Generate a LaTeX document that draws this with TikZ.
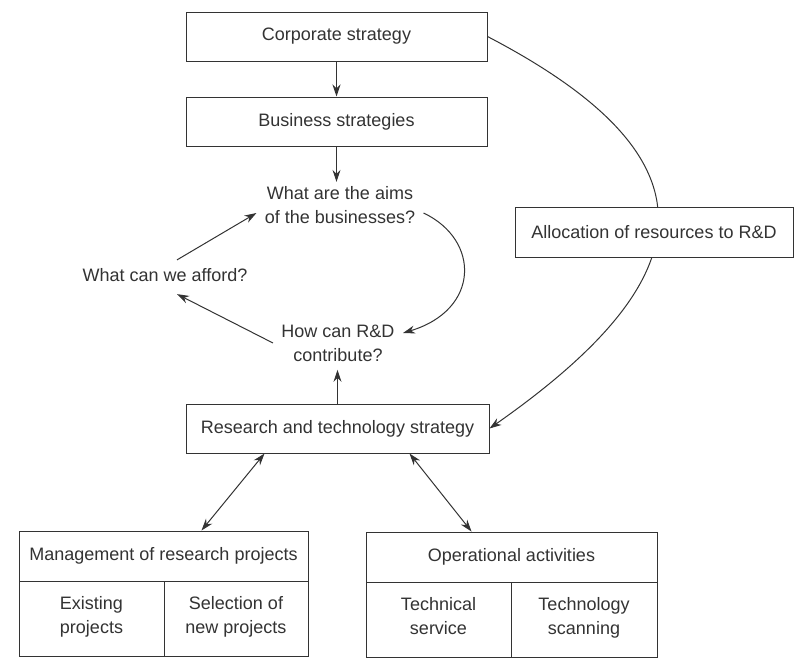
\documentclass[tikz,border=0pt]{standalone}
\usepackage{fontspec}
\setmainfont{Liberation Sans}
\usetikzlibrary{arrows.meta,positioning,calc}

\begin{document}
\begin{tikzpicture}[x=0.5pt,y=-0.5pt,font=\fontsize{9}{12}\selectfont,
  color=black!80,line width=0.5pt,>={Stealth[length=6pt,width=4pt]},
  box/.style={draw,fill=white,inner sep=0pt,minimum height=24.5pt,align=center},
  quest/.style={align=center,inner sep=4pt}]
\useasboundingbox (0,0) rectangle (803,669);
\foreach \name/\x/\y/\w/\txt in {corp/336.5/36.5/150.5/Corporate strategy,
  bus/336.5/121.5/150.5/Business strategies,
  rt/337.5/428.5/151.5/Research and technology strategy}{
  \node[box,minimum width=\w pt] (\name) at (\x,\y) {\txt};
}
\node[quest] (aims) at (340,205) {What are the aims\\of the businesses?};
\node[quest] (afford) at (165,275) {What can we afford?};
\node[quest] (howcan) at (338,343) {How can R\&D\\contribute?};
\draw[->] (corp) -- (bus);
\draw[->] (bus.south) -- ([yshift=-2pt]bus.south |- aims.north);
\draw[->] (rt.north) -- (rt.north |- howcan.south);
\draw[->] ([xshift=6pt]afford.north) -- ([yshift=-4pt]aims.west);
\draw[->] (howcan.west) -- ([xshift=6pt,yshift=-2pt]afford.south);
\draw[->] ([yshift=-4pt]aims.east) .. controls +(57,27) and +(77,-23) .. ([yshift=5pt]howcan.east);
\draw[->] (corp.east) .. controls +(234,122) and +(217,-152) .. (rt.east);
\node[box,minimum width=139pt,minimum height=25pt] (alloc) at (654,232) {Allocation of resources to R\&D};
% lower boxes
\node[box,minimum width=144.5pt,minimum height=25pt] (mgmt) at (163.5,556) {Management of research projects};
\node[box,minimum width=72.5pt,minimum height=37.5pt] (exist) at (91.5,618.5) {Existing\\projects\strut};
\node[box,minimum width=72pt,minimum height=37.5pt] (select) at (236,618.5) {Selection of\\new projects\strut};
\node[box,minimum width=145.5pt,minimum height=25pt] (oper) at (511.5,557) {Operational activities};
\node[box,minimum width=72.5pt,minimum height=37.5pt] (tech) at (438.5,619.5) {Technical\\service\strut};
\node[box,minimum width=73pt,minimum height=37.5pt] (scan) at (584,619.5) {Technology\\scanning\strut};
\draw[<->] ([xshift=-36.5pt]rt.south) -- ([xshift=19pt]mgmt.north);
\draw[<->] ([xshift=36pt]rt.south) -- ([xshift=-20pt]oper.north);
\end{tikzpicture}
\end{document}
